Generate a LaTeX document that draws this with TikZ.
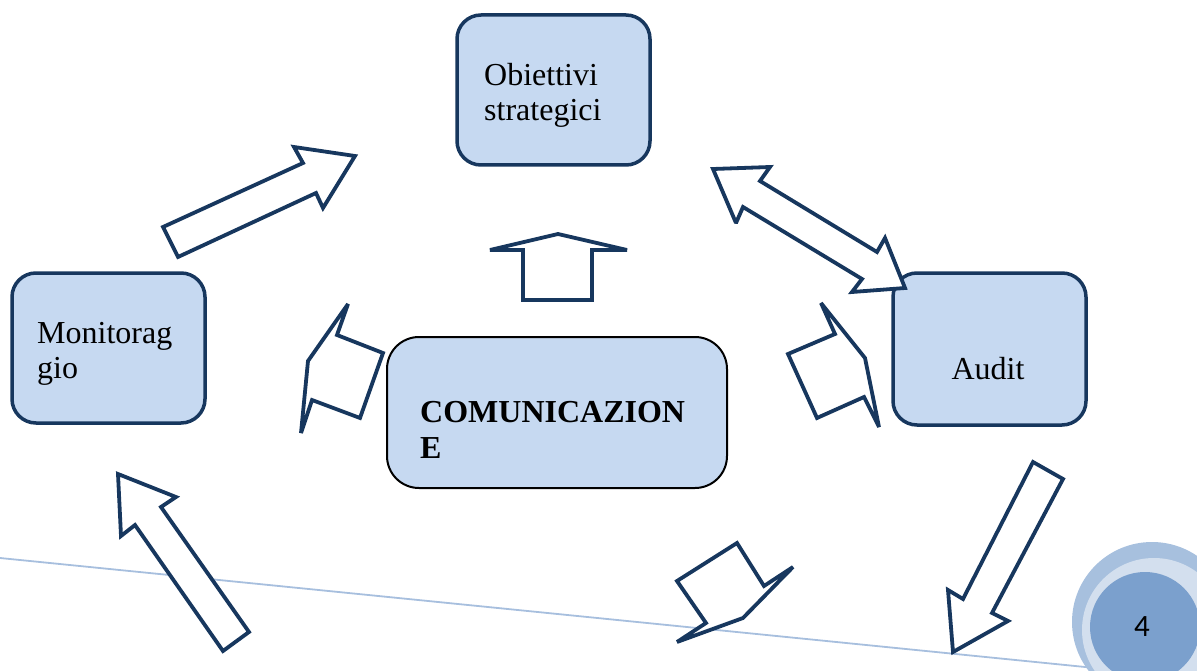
\documentclass[tikz,border=0pt]{standalone}
\usepackage{fontspec}
\setmainfont{Liberation Serif}
\newfontfamily\numfont{Carlito}
\definecolor{navy}{HTML}{17375E}
\definecolor{boxfill}{HTML}{C6D9F1}
\definecolor{linec}{HTML}{A7BFDE}
\definecolor{circA}{HTML}{A7C0DE}
\definecolor{circB}{HTML}{D3DFEE}
\definecolor{circC}{HTML}{7BA0CD}
\tikzset{
  boxnode/.style={draw=navy, line width=3.5pt, fill=boxfill, rounded corners=24pt, inner sep=0pt},
  combox/.style={draw=black, line width=2pt, fill=boxfill, rounded corners=32pt, inner sep=0pt},
  txt/.style={font=\fontsize{32}{35}\selectfont, inner sep=0pt, anchor=base west},
  btxt/.style={font=\fontsize{32}{35}\selectfont\bfseries, inner sep=0pt, anchor=base west},
  blockarrow/.style={draw=navy, line width=3.8pt, fill=white, line join=miter, miter limit=2.5},
}
\begin{document}
\begin{tikzpicture}[x=1pt,y=-1pt]
\useasboundingbox (0,0) rectangle (1197,671);
\begin{scope}
\clip (0,0) rectangle (1197,671);
% decorative line
\draw[linec, line width=1.8pt] (0,558) -- (1125,671);
% page number circles
\fill[circA] (1152,622) circle (80);
\fill[circB] (1154,630) circle (72);
\fill[circC] (1145,627) circle (55);
\node[font=\numfont\fontsize{31}{31}\selectfont, inner sep=0pt] (pg) at (1142,627) {4};
\end{scope}

% boxes
\node[boxnode, minimum width=193pt, minimum height=150pt] (obj) at (553.5,90) {};
\node[boxnode, minimum width=193pt, minimum height=150pt] (mon) at (108.5,348) {};
\node[boxnode, minimum width=193pt, minimum height=152pt] (aud) at (989.5,349) {};
\node[combox, minimum width=340pt, minimum height=151pt] (com) at (557,412.5) {};

% texts
\node[txt] (objA) at (484,86) {Obiettivi};
\node[txt] (objB) at (484,121) {strategici};
\node[txt] (monA) at (37,343) {Monitorag};
\node[txt] (monB) at (37,378) {gio};
\node[txt, anchor=base] (audA) at (988,379) {Audit};
\node[btxt] (comA) at (420,422) {COMUNICAZION};
\node[btxt] (comB) at (420,458) {E};

% block arrows
\draw[blockarrow] (163,227) -- (303,163) -- (294,147) -- (355,156) -- (323,208) -- (316,193) -- (178,257) -- cycle;
\draw[blockarrow] (523,300) -- (523,250) -- (490,250) -- (558,234) -- (627,250) -- (592,250) -- (592,300) -- cycle;
\draw[blockarrow] (713,169) -- (770,167) -- (760,181) -- (877,252) -- (885,238) -- (905,288) -- (852,292) -- (862,279) -- (743,207) -- (736,223) -- cycle;
\draw[blockarrow] (348,304) -- (337,335) -- (383,353) -- (360,418) -- (312,400) -- (301,433) -- (308,361) -- cycle;
\draw[blockarrow] (821,303) -- (835,334) -- (788,354) -- (817,418) -- (864,397) -- (879,427) -- (865,358) -- cycle;
\draw[blockarrow] (677,581) -- (737,543) -- (764,586) -- (793,567) -- (743,618) -- (677,642) -- (706,623) -- cycle;
\draw[blockarrow] (118,474) -- (176,497) -- (161,507) -- (249,632) -- (223,651) -- (135,525) -- (121,536) -- cycle;
\draw[blockarrow] (1033,462) -- (1063,479) -- (992,613) -- (1008,621) -- (953,652) -- (948,590) -- (963,599) -- cycle;
\end{tikzpicture}
\end{document}
